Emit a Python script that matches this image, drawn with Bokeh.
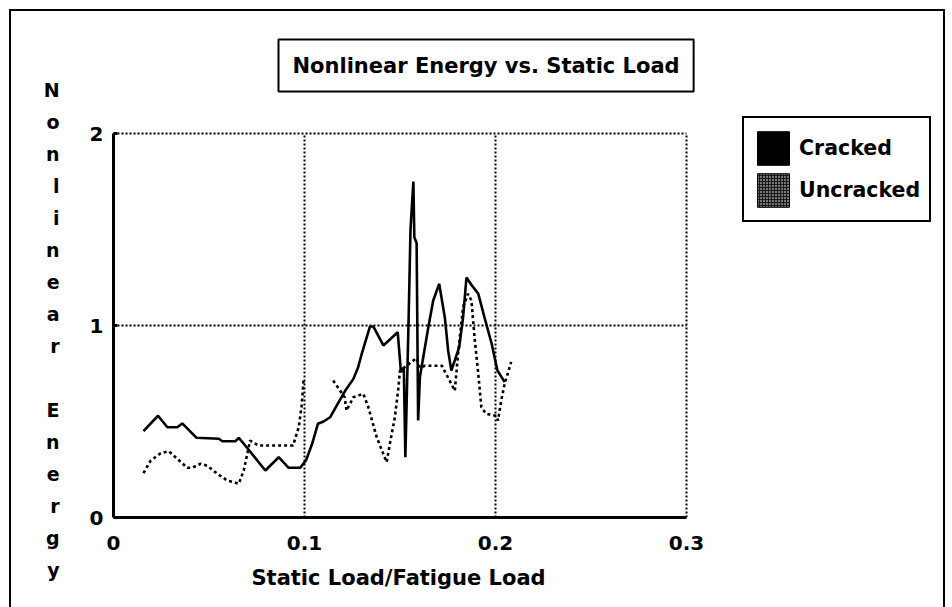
import numpy as np
from bokeh.plotting import figure
from bokeh.models import (Legend, LegendItem, FixedTicker, Range1d, ColumnDataSource, Title)
from bokeh.core.properties import value
from bokeh.embed import file_html
from bokeh.resources import INLINE

# ---------------- data ----------------
title_text = "Nonlinear Energy vs. Static Load"
x_title = "Static Load/Fatigue Load"
y_title = "Nonlinear Energy"
series_names = ["Cracked", "Uncracked"]

x_ticks = [0, 0.1, 0.2, 0.3]
x_tick_labels = ["0", "0.1", "0.2", "0.3"]
y_ticks = [0, 1, 2]
y_tick_labels = ["0", "1", "2"]

cracked_x = [0.0157, 0.0233, 0.0282, 0.0334, 0.0360, 0.0435, 0.0551, 0.0570, 0.0638,
             0.0656, 0.0682, 0.0795, 0.0865, 0.0917, 0.0978, 0.1009, 0.1040, 0.1070,
             0.1100, 0.1134, 0.1178, 0.1213, 0.1256, 0.1280, 0.1300, 0.1326, 0.1343,
             0.1360, 0.1413, 0.1488, 0.1505, 0.1520, 0.1528, 0.1545, 0.1555, 0.1570,
             0.1575, 0.1587, 0.1595, 0.1604, 0.1648, 0.1674, 0.1705, 0.1735, 0.1752,
             0.1769, 0.1810, 0.1830, 0.1848, 0.1870, 0.1910, 0.1943, 0.1980, 0.2010,
             0.2048]
cracked_y = [0.45, 0.53, 0.47, 0.47, 0.49, 0.415, 0.41, 0.397, 0.397,
             0.415, 0.384, 0.245, 0.314, 0.259, 0.259, 0.30, 0.384, 0.488,
             0.50, 0.522, 0.60, 0.66, 0.722, 0.78, 0.853, 0.94, 0.995,
             0.995, 0.896, 0.965, 0.757, 0.78, 0.314, 1.03, 1.50, 1.75,
             1.46, 1.43, 0.505, 0.73, 0.99, 1.13, 1.217, 1.04, 0.87,
             0.765, 0.887, 1.04, 1.25, 1.217, 1.165, 1.04, 0.905, 0.766,
             0.705]

uncracked_x = [0.0157, 0.0195, 0.0247, 0.0290, 0.0386, 0.0412, 0.0456, 0.0490, 0.0543,
               0.0595, 0.0656, 0.0682, 0.0715, 0.0760, 0.0940, 0.0970, 0.0986, 0.0995,
               np.nan,
               0.1150, 0.1210, 0.1220, 0.1256, 0.1308, 0.1334, 0.1378, 0.1430, 0.1447,
               0.1473, 0.1490, 0.1500, 0.1587, 0.1604, 0.1630, 0.1720, 0.1735, 0.1760,
               0.1787, 0.1804, 0.1830, 0.1856, 0.1874, 0.1890, 0.1908, 0.1926, 0.1950,
               0.2004, 0.2013, 0.2030, 0.2048, 0.2082]
uncracked_y = [0.231, 0.297, 0.335, 0.345, 0.259, 0.259, 0.28, 0.27, 0.228,
               0.193, 0.176, 0.245, 0.40, 0.375, 0.375, 0.47, 0.59, 0.72,
               np.nan,
               0.713, 0.627, 0.557, 0.627, 0.644, 0.575, 0.418, 0.288, 0.384,
               0.522, 0.66, 0.765, 0.83, 0.78, 0.79, 0.79, 0.76, 0.713,
               0.66, 0.853, 1.095, 1.165, 1.13, 0.94, 0.766, 0.575, 0.54,
               0.53, 0.505, 0.61, 0.696, 0.81]

# ---------------- figure ----------------
FONT = "DejaVu Sans"
W, H = 952, 607
X_MAX, Y_MAX = x_ticks[-1], y_ticks[-1]
frame_css = ("linear-gradient(#000,#000) 9px 9px / 2px 100% no-repeat, "
             "linear-gradient(#000,#000) 9px 9px / 936px 2px no-repeat, "
             "linear-gradient(#000,#000) 943px 9px / 2px 100% no-repeat, white")

# frame spans 113..940 (x) and 110..517 (y); the data area 0..0.3 x 0..2 sits in
# 113..686 x 133..517 so the legend can live inside the frame
p = figure(width=W, height=H, output_backend="svg", toolbar_location=None,
           x_range=Range1d(0, 0.43298), y_range=Range1d(0, 2.1198),
           min_border_left=113, min_border_right=12, min_border_top=110,
           min_border_bottom=90, background_fill_color=None,
           border_fill_color=None, styles={"background": frame_css})
p.outline_line_color = None
p.grid.visible = False

# title box
p.title = Title(text=title_text, align="left", offset=165, vertical_align="bottom",
                standoff=38, text_font=FONT, text_font_style="bold",
                text_font_size="21px", text_color="black",
                border_line_color="black", border_line_width=2,
                background_fill_color="white", padding=14)

# dotted grid (drawn only over the data area)
gx = x_ticks[1:]
gy = y_ticks[1:]
p.segment(x0=gx, y0=[0] * len(gx), x1=gx, y1=[Y_MAX] * len(gx),
          line_color="black", line_width=2, line_dash="2 2")
p.segment(x0=[0] * len(gy), y0=gy, x1=[X_MAX] * len(gy), y1=gy,
          line_color="black", line_width=2, line_dash="2 2")

# axes
p.xaxis.ticker = FixedTicker(ticks=x_ticks)
p.xaxis.major_label_overrides = dict(zip(x_ticks, x_tick_labels))
p.xaxis.bounds = (0, X_MAX)
p.yaxis.ticker = FixedTicker(ticks=y_ticks)
p.yaxis.major_label_overrides = dict(zip(y_ticks, y_tick_labels))
p.yaxis.bounds = (0, Y_MAX)
for ax in (p.xaxis, p.yaxis):
    ax.axis_line_width = 3
    ax.axis_line_color = "black"
    ax.major_tick_out = 0
    ax.minor_tick_line_color = None
    ax.major_tick_line_width = 3
    ax.major_tick_line_color = "black"
    ax.major_label_text_font = FONT
    ax.major_label_text_font_style = "bold"
    ax.major_label_text_font_size = "20px"
    ax.major_label_text_color = "black"
p.xaxis.major_tick_in = 0
p.yaxis.major_tick_in = 4
p.xaxis.major_label_standoff = 18
p.yaxis.major_label_standoff = 10

# x title, centred under the data area (a below-panel title so it can be offset)
p.add_layout(Title(text=x_title, align="left", offset=138, vertical_align="top",
                   standoff=26, text_font=FONT, text_font_style="bold",
                   text_font_size="21px", text_color="black"), "below")

# stacked vertical y title (leading blank line shifts the column down a little)
p.yaxis.axis_label = "\n".join(" " + y_title)
p.yaxis.axis_label_orientation = "horizontal"
p.yaxis.axis_label_text_align = "center"
p.yaxis.axis_label_text_font = FONT
p.yaxis.axis_label_text_font_style = "bold"
p.yaxis.axis_label_text_font_size = "19px"
p.yaxis.axis_label_text_line_height = 1.455
p.yaxis.axis_label_text_color = "black"
p.yaxis.axis_label_standoff = 27

# series
src_c = ColumnDataSource(dict(x=cracked_x, y=cracked_y))
src_u = ColumnDataSource(dict(x=uncracked_x, y=uncracked_y))
p.line("x", "y", source=src_u, line_color="black", line_width=2.6, line_dash="3 3")
p.line("x", "y", source=src_c, line_color="black", line_width=2.6)

# legend swatches (filled squares; the quads themselves have no visible extent)
sw_c = p.quad(left=[np.nan], right=[np.nan], top=[np.nan], bottom=[np.nan],
              fill_color="black", line_color="black")
sw_u = p.quad(left=[np.nan], right=[np.nan], top=[np.nan], bottom=[np.nan],
              fill_color="#1a1a1a", line_color="black", hatch_pattern="dot",
              hatch_color="white", hatch_scale=3, hatch_weight=1.2)
legend = Legend(items=[LegendItem(label=value(series_names[0]), renderers=[sw_c]),
                       LegendItem(label=value(series_names[1]), renderers=[sw_u])],
                location=(629, 295), border_line_color="black", border_line_width=2,
                border_line_alpha=1, padding=9, spacing=0, glyph_width=40,
                glyph_height=42, label_standoff=6, label_text_font=FONT,
                label_text_font_style="bold", label_text_font_size="20.5px",
                label_text_color="black", margin=0,
                background_fill_color="white", background_fill_alpha=1)
p.add_layout(legend, "center")

open("out.html", "w").write(file_html(p, INLINE))
